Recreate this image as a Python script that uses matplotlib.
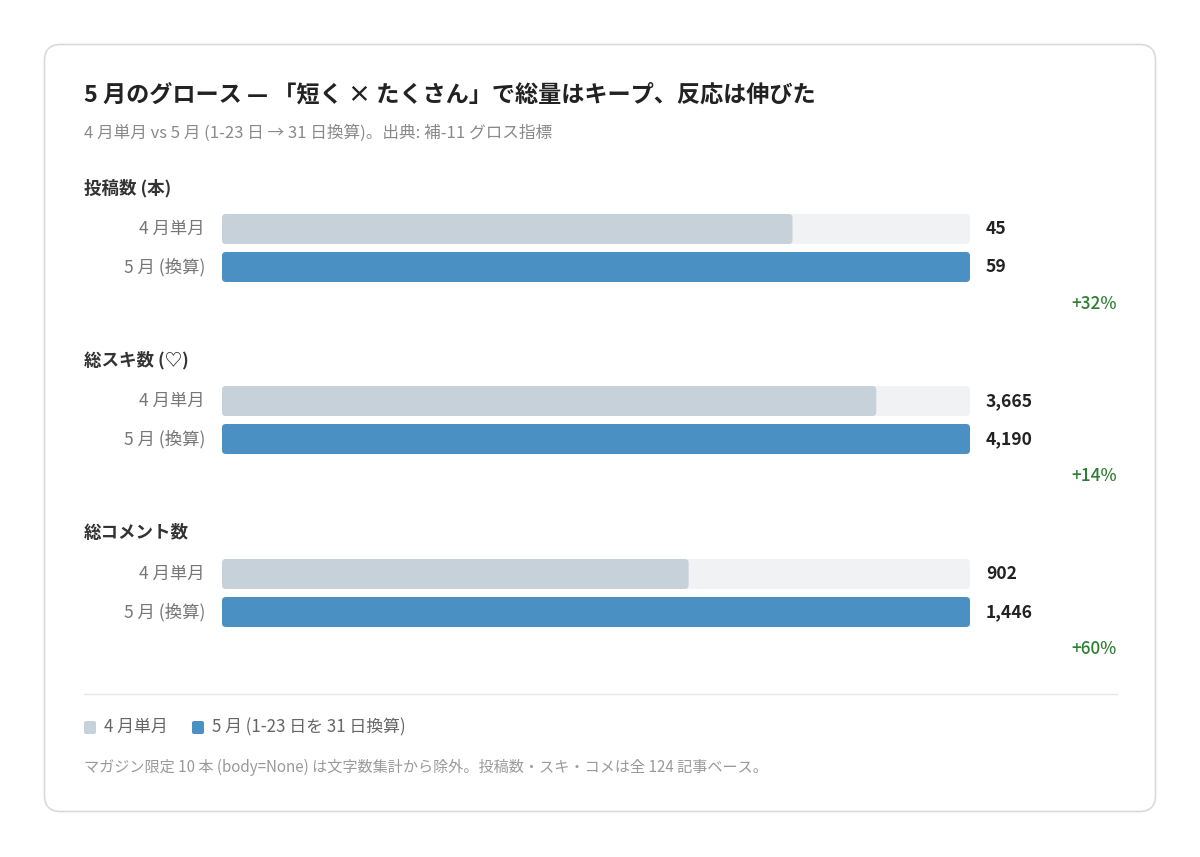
import matplotlib.pyplot as plt
from matplotlib.patches import FancyBboxPatch

plt.rcParams['font.family'] = ['Noto Sans CJK JP', 'DejaVu Sans']

# data
metrics = ['投稿数 (本)', '総スキ数 (♡)', '総コメント数']
april = [45, 3665, 902]
may = [59, 4190, 1446]
value_labels_apr = ['45', '3,665', '902']
value_labels_may = ['59', '4,190', '1,446']
pct_labels = ['+32%', '+14%', '+60%']
row_labels = ['4 月単月', '5 月 (換算)']
legend_labels = ['4 月単月', '5 月 (1-23 日を 31 日換算)']

title = '5 月のグロース — 「短く × たくさん」で総量はキープ、反応は伸びた'
subtitle = '4 月単月 vs 5 月 (1-23 日 → 31 日換算)。出典: 補-11 グロス指標'
footnote = 'マガジン限定 10 本 (body=None) は文字数集計から除外。投稿数・スキ・コメは全 124 記事ベース。'

c_apr = '#c7d1da'
c_may = '#4a90c2'
c_track = '#f1f2f4'
c_green = '#2e7d32'

W, H = 1200, 857
fig = plt.figure(figsize=(W / 100, H / 100), dpi=100)
fig.patch.set_facecolor('white')

# background axes in pixel units for the card and text
bg = fig.add_axes([0, 0, 1, 1])
bg.set_xlim(0, W)
bg.set_ylim(H, 0)
bg.axis('off')
bg.add_patch(FancyBboxPatch((44.5, 44.5), 1111, 767,
                            boxstyle='round,pad=0,rounding_size=16',
                            fc='white', ec='#dadada', lw=1.2))

bg.text(84, 95, title, fontsize=16.7, fontweight='bold', color='#222222', va='center')
bg.text(84, 133, subtitle, fontsize=12, color='#8a8a8a', va='center')

track_x0, track_w = 222, 748
group_top = [188, 360, 533]
row_gap = 38
bar_px = 30

for i, name in enumerate(metrics):
    gy = group_top[i]
    bg.text(84, gy, name, fontsize=12.6, fontweight='bold', color='#333333', va='center')
    r0 = gy + 41
    # axes for the bars of this group
    ax_top = r0 - row_gap / 2
    ax = fig.add_axes([track_x0 / W, 1 - (ax_top + 2 * row_gap) / H,
                       track_w / W, 2 * row_gap / H])
    vmax = max(april[i], may[i])
    ax.set_xlim(0, vmax)
    ax.set_ylim(1.5, -0.5)
    ax.axis('off')
    h = bar_px / row_gap
    tracks = ax.barh([0, 1], [vmax, vmax], height=h, color=c_track)
    bars = ax.barh([0, 1], [april[i], may[i]], height=h, color=[c_apr, c_may])
    # swap rectangles for rounded ones
    xu = vmax / track_w
    yu = 1 / row_gap
    for b in list(tracks) + list(bars):
        x, y = b.get_x(), b.get_y()
        w, hh = b.get_width(), b.get_height()
        b.set_visible(False)
        ax.add_patch(FancyBboxPatch((x, y), w, hh,
                                    boxstyle='round,pad=0,rounding_size=%f' % (4 * xu),
                                    mutation_aspect=yu / xu,
                                    fc=b.get_facecolor(), ec='none'))
    for j, lab in enumerate(row_labels):
        yy = r0 + j * row_gap
        bg.text(205, yy, lab, fontsize=12.5, color='#777777', ha='right', va='center')
    bg.text(986, r0, value_labels_apr[i], fontsize=12.6, fontweight='bold',
            color='#222222', va='center')
    bg.text(986, r0 + row_gap, value_labels_may[i], fontsize=12.6, fontweight='bold',
            color='#222222', va='center')
    bg.text(1117, r0 + row_gap + 37, pct_labels[i], fontsize=12.4, color=c_green,
            fontweight='medium', ha='right', va='center')

bg.plot([84, 1117], [694, 694], color='#e6e6e6', lw=1)

# legend
bg.add_patch(FancyBboxPatch((84, 721), 12, 13, boxstyle='round,pad=0,rounding_size=2',
                            fc=c_apr, ec='none'))
bg.text(104, 727, legend_labels[0], fontsize=12.2, color='#666666', va='center')
bg.add_patch(FancyBboxPatch((192, 721), 12, 13, boxstyle='round,pad=0,rounding_size=2',
                            fc=c_may, ec='none'))
bg.text(212, 727, legend_labels[1], fontsize=12.2, color='#666666', va='center')

bg.text(84, 767, footnote, fontsize=10.9, color='#9a9a9a', va='center')

fig.savefig('out.png', dpi=100)
